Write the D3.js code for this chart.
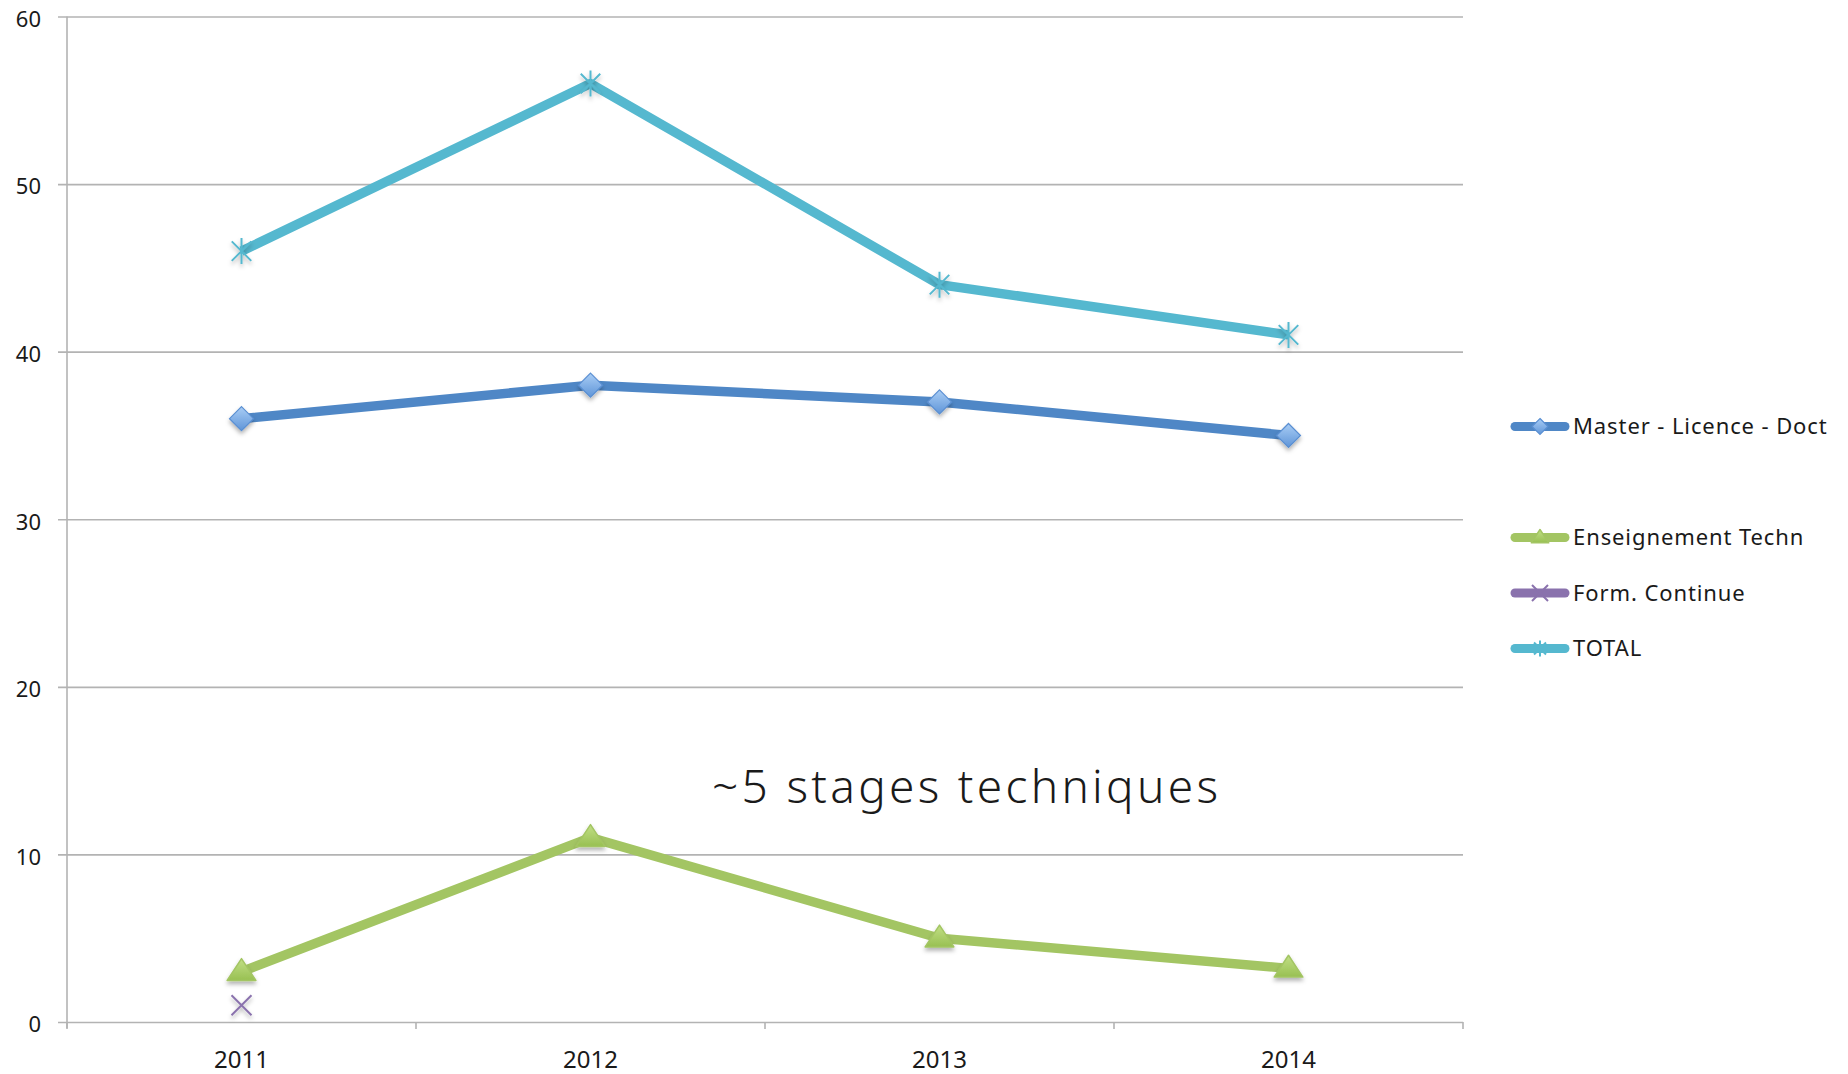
<!DOCTYPE html>
<html>
<head>
<meta charset="utf-8">
<script src="https://cdn.jsdelivr.net/npm/d3@7"></script>
<style>
  html, body { margin: 0; padding: 0; background: #fff; }
  svg { display: block; }
  text { font-family: "Noto Sans", "Open Sans", sans-serif; fill: #1a1a1a; }
</style>
</head>
<body>
<svg id="chart" width="1848" height="1074"></svg>
<script>
// ---- data ----
const years = ["2011", "2012", "2013", "2014"];
const yTicks = [0, 10, 20, 30, 40, 50, 60];
const masterValues = [36, 38, 37, 35];
const techValues = [3, 11, 5, 3.2];
const formValues = [1, null, null, null];
const totalValues = [46, 56, 44, 41];
const seriesNames = ["Master - Licence - Doct", "Enseignement Techn", "Form. Continue", "TOTAL"];
const annotationText = "~5 stages techniques";

const series = [
  { name: seriesNames[0], values: masterValues, color: "#4f87c6", marker: "diamond", legendRow: 0 },
  { name: seriesNames[1], values: techValues, color: "#a3c563", marker: "triangle", legendRow: 2 },
  { name: seriesNames[2], values: formValues, color: "#8a72ad", marker: "x", legendRow: 3 },
  { name: seriesNames[3], values: totalValues, color: "#55b8cf", marker: "star", legendRow: 4 }
];

const svg = d3.select("#chart");
const W = 1848, H = 1074;
svg.append("rect").attr("width", W).attr("height", H).attr("fill", "#fff");

const defs = svg.append("defs");
const shadow = defs.append("filter").attr("id", "shadow")
  .attr("x", "-50%").attr("y", "-50%").attr("width", "200%").attr("height", "200%");
shadow.append("feDropShadow").attr("dx", 0).attr("dy", 3).attr("stdDeviation", 2)
  .attr("flood-color", "#000").attr("flood-opacity", 0.3);

const gDia = defs.append("linearGradient").attr("id", "gDia").attr("x1", 0).attr("y1", 0).attr("x2", 0).attr("y2", 1);
gDia.append("stop").attr("offset", "0%").attr("stop-color", "#a9cdf5");
gDia.append("stop").attr("offset", "100%").attr("stop-color", "#5f95d8");
const gTri = defs.append("linearGradient").attr("id", "gTri").attr("x1", 0).attr("y1", 0).attr("x2", 0).attr("y2", 1);
gTri.append("stop").attr("offset", "0%").attr("stop-color", "#c2df86");
gTri.append("stop").attr("offset", "100%").attr("stop-color", "#98c052");

// ---- scales ----
const plotLeft = 67, plotRight = 1463, plotTop = 16.5, plotBottom = 1022;
const x = d3.scaleBand().domain(years).range([plotLeft, plotRight]).padding(0);
const y = d3.scaleLinear().domain([0, 60]).range([plotBottom, plotTop]);
const cx = d => x(d) + x.bandwidth() / 2;

// ---- y axis with gridlines ----
const yAxis = d3.axisLeft(y).tickValues(yTicks).tickSize(-(plotRight - 58)).tickPadding(17);
const gy = svg.append("g").attr("transform", "translate(58,0)").call(yAxis);
gy.select(".domain").remove();
gy.selectAll(".tick line").attr("stroke", "#b3b3b3").attr("stroke-width", 1.6);
gy.selectAll(".tick text").attr("font-size", 22).attr("dy", "0.45em")
  .attr("font-family", "'Noto Sans', sans-serif").attr("fill", "#1a1a1a");

// vertical axis line
svg.append("line").attr("x1", plotLeft).attr("x2", plotLeft)
  .attr("y1", y(60)).attr("y2", y(0) + 6).attr("stroke", "#b3b3b3").attr("stroke-width", 1.6);

// x axis labels
const xAxis = d3.axisBottom(x).tickSize(0).tickPadding(28.5);
const gx = svg.append("g").attr("transform", `translate(0,${plotBottom})`).call(xAxis);
gx.select(".domain").remove();
gx.selectAll(".tick text").attr("font-size", 24)
  .attr("font-family", "'Noto Sans', sans-serif").attr("fill", "#1a1a1a");
// boundary ticks
const bounds = years.map(d => x(d)).concat([x(years[years.length - 1]) + x.bandwidth()]);
svg.append("g").selectAll("line").data(bounds).join("line")
  .attr("x1", d => d).attr("x2", d => d)
  .attr("y1", plotBottom).attr("y2", plotBottom + 7)
  .attr("stroke", "#b3b3b3").attr("stroke-width", 1.6);

// ---- markers ----
function drawMarker(g, type, color, s) {
  if (type === "diamond") {
    g.append("path").attr("d", `M0,${-s}L${s},0L0,${s}L${-s},0Z`)
      .attr("fill", "url(#gDia)").attr("stroke", "#5a8fd2").attr("stroke-width", 1.2);
  } else if (type === "triangle") {
    const h = s * 1.9, w = s * 1.25;
    g.append("path").attr("d", `M0,${-h * 0.6}L${w},${h * 0.4}L${-w},${h * 0.4}Z`)
      .attr("fill", "url(#gTri)").attr("stroke", "#a3c563").attr("stroke-width", 1.5)
      .attr("stroke-linejoin", "round");
  } else if (type === "x") {
    g.append("path").attr("d", `M${-s},${-s}L${s},${s}M${s},${-s}L${-s},${s}`)
      .attr("stroke", color).attr("stroke-width", 2).attr("fill", "none");
  } else if (type === "star") {
    const a = s * 0.75;
    g.append("path").attr("d", `M${-a},${-a}L${a},${a}M${a},${-a}L${-a},${a}M0,${-s}L0,${s}`)
      .attr("stroke", color).attr("stroke-width", 2).attr("fill", "none");
  }
}

const line = d3.line().defined(d => d.v != null).x(d => cx(d.year)).y(d => y(d.v));

// draw order: lines then markers
series.forEach(s => {
  const pts = years.map((yr, i) => ({ year: yr, v: s.values[i] }));
  svg.append("path").datum(pts)
    .attr("d", line)
    .attr("fill", "none").attr("stroke", s.color).attr("stroke-width", 9.5)
    .attr("stroke-linejoin", "round").attr("stroke-linecap", "butt");
});
series.forEach(s => {
  const pts = years.map((yr, i) => ({ year: yr, v: s.values[i] })).filter(d => d.v != null);
  pts.forEach(p => {
    const g = svg.append("g").attr("transform", `translate(${cx(p.year)},${y(p.v)})`)
      .attr("filter", "url(#shadow)");
    const size = s.marker === "diamond" ? 12 : s.marker === "triangle" ? 11.5 : s.marker === "x" ? 10 : 13;
    drawMarker(g, s.marker, s.color, size);
  });
});

// ---- annotation ----
svg.append("text").attr("x", 712).attr("y", 803)
  .attr("font-family", "Lato, 'Noto Sans', sans-serif").attr("font-size", 46).attr("font-weight", 300)
  .attr("letter-spacing", 3.3)
  .attr("fill", "#111").text(annotationText);

// ---- legend ----
const legendRowY = d3.scaleLinear().domain([0, 4]).range([426.5, 648.5]);
const lg = svg.append("g");
series.forEach(s => {
  const ry = legendRowY(s.legendRow);
  const g = lg.append("g").attr("transform", `translate(0,${ry})`);
  g.append("line").attr("x1", 1515).attr("x2", 1565).attr("y1", 0).attr("y2", 0)
    .attr("stroke", s.color).attr("stroke-width", 9).attr("stroke-linecap", "round");
  const mg = g.append("g").attr("transform", "translate(1540,0)");
  drawMarker(mg, s.marker, s.color, s.marker === "triangle" ? 7 : 8);
  g.append("text").attr("x", 1573).attr("y", 0).attr("dy", "0.36em")
    .attr("font-family", "'DejaVu Sans', sans-serif")
    .attr("letter-spacing", 0.9)
    .attr("font-size", 22).text(s.name);
});
</script>
</body>
</html>
